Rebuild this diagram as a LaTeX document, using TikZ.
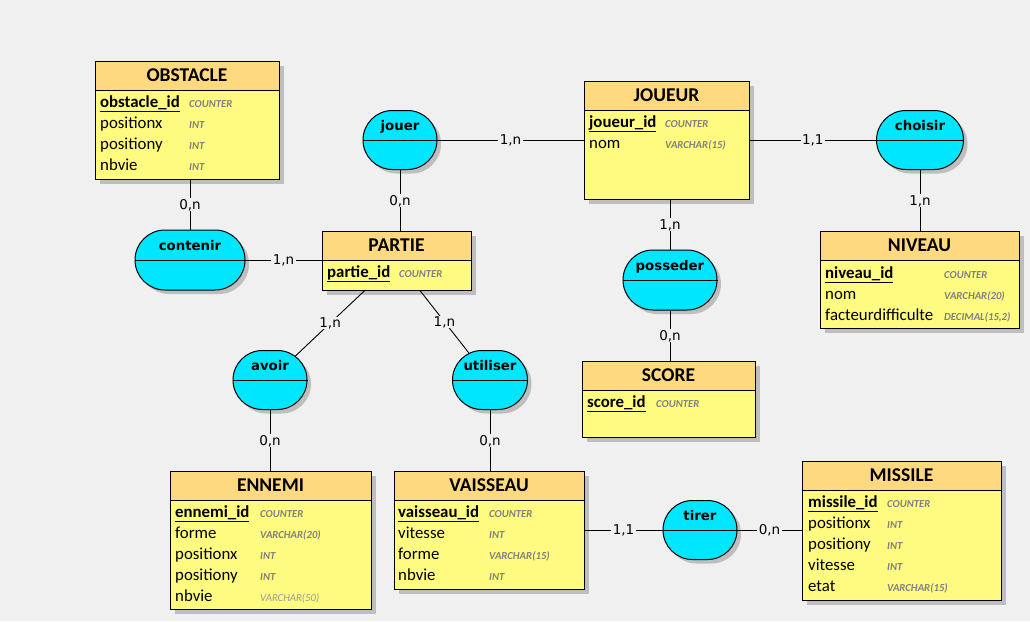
\documentclass[tikz,border=0pt]{standalone}
\usepackage{fontspec}
\setmainfont{Carlito}
\newfontfamily\relfont{DejaVu Sans}
\usetikzlibrary{shapes.misc,shadows}
\definecolor{bg}{RGB}{240,240,240}
\definecolor{hdr}{RGB}{255,217,128}
\definecolor{bodyc}{RGB}{255,250,128}
\definecolor{relc}{RGB}{0,230,255}
\definecolor{shad}{RGB}{190,190,190}
\definecolor{typec}{RGB}{128,128,128}
\begin{document}
\begin{tikzpicture}[x=1pt,y=-1pt,
  ent/.style={draw=black, line width=1pt, fill=bodyc, rectangle, inner sep=0pt,
    drop shadow={shadow xshift=5pt, shadow yshift=-5pt, fill=shad, opacity=1}},
  hdrbox/.style={draw=black, line width=1pt, fill=hdr, rectangle, inner sep=0pt, minimum height=29pt, anchor=north},
  title/.style={font=\fontsize{19.5}{19.5}\selectfont\bfseries, inner sep=0pt},
  attr/.style={font=\fontsize{16.8}{16.8}\selectfont, inner sep=0pt, anchor=base west},
  pk/.style={font=\fontsize{16.8}{16.8}\selectfont\bfseries, inner sep=0pt, anchor=base west},
  typ/.style={font=\fontsize{10.7}{10.7}\selectfont\bfseries\itshape, text=typec, inner sep=0pt, anchor=base west},
  rel/.style={rounded rectangle, draw=black, line width=1pt, fill=relc, inner sep=0pt,
    drop shadow={shadow xshift=4pt, shadow yshift=-4pt, fill=shad, opacity=1}},
  relname/.style={font=\relfont\fontsize{13.3}{13.3}\selectfont\bfseries, inner sep=0pt, anchor=base},
  card/.style={font=\relfont\fontsize{13.5}{13.5}\selectfont, fill=bg, inner sep=1.5pt, text height=9.5pt, text depth=0pt},
  conn/.style={draw=black, line width=0.9pt}
]
\useasboundingbox (0,0) rectangle (1030,621);
\fill[bg] (0,0) rectangle (1030,621);

% ---------------- entities ----------------
% OBSTACLE
\node[ent, minimum width=184pt, minimum height=118pt] (obstacle) at (187,120) {};
\node[hdrbox, minimum width=184pt] (obstacle-h) at (obstacle.north) {};
\node[title] (obstacle-t) at (obstacle-h.center) {OBSTACLE};
\node[pk] (obstacle-a1) at (100,107) {\underline{obstacle\_id}};
\node[typ] (obstacle-t1) at (189,107) {COUNTER};
\node[attr] (obstacle-a2) at (100,128) {positionx};
\node[typ] (obstacle-t2) at (189,128) {INT};
\node[attr] (obstacle-a3) at (100,149) {positiony};
\node[typ] (obstacle-t3) at (189,149) {INT};
\node[attr] (obstacle-a4) at (100,170) {nbvie};
\node[typ] (obstacle-t4) at (189,170) {INT};

% JOUEUR
\node[ent, minimum width=165pt, minimum height=118pt] (joueur) at (666.5,140) {};
\node[hdrbox, minimum width=165pt] (joueur-h) at (joueur.north) {};
\node[title] (joueur-t) at (joueur-h.center) {JOUEUR};
\node[pk] (joueur-a1) at (589,127) {\underline{joueur\_id}};
\node[typ] (joueur-t1) at (665,127) {COUNTER};
\node[attr] (joueur-a2) at (589,148) {nom};
\node[typ] (joueur-t2) at (665,148) {VARCHAR(15)};

% PARTIE
\node[ent, minimum width=149pt, minimum height=59pt] (partie) at (396.5,260.5) {};
\node[hdrbox, minimum width=149pt] (partie-h) at (partie.north) {};
\node[title] (partie-t) at (partie-h.center) {PARTIE};
\node[pk] (partie-a1) at (327,277) {\underline{partie\_id}};
\node[typ] (partie-t1) at (399,277) {COUNTER};

% NIVEAU
\node[ent, minimum width=199pt, minimum height=97pt] (niveau) at (919.5,279.5) {};
\node[hdrbox, minimum width=199pt] (niveau-h) at (niveau.north) {};
\node[title] (niveau-t) at (niveau-h.center) {NIVEAU};
\node[pk] (niveau-a1) at (825,278) {\underline{niveau\_id}};
\node[typ] (niveau-t1) at (944,278) {COUNTER};
\node[attr] (niveau-a2) at (825,299) {nom};
\node[typ] (niveau-t2) at (944,299) {VARCHAR(20)};
\node[attr] (niveau-a3) at (825,320) {facteurdifficulte};
\node[typ] (niveau-t3) at (944,320) {DECIMAL(15,2)};

% SCORE
\node[ent, minimum width=173pt, minimum height=76pt] (score) at (668.5,399) {};
\node[hdrbox, minimum width=173pt] (score-h) at (score.north) {};
\node[title] (score-t) at (score-h.center) {SCORE};
\node[pk] (score-a1) at (587,407) {\underline{score\_id}};
\node[typ] (score-t1) at (656,407) {COUNTER};

% ENNEMI
\node[ent, minimum width=201pt, minimum height=138pt] (ennemi) at (270.5,540) {};
\node[hdrbox, minimum width=201pt] (ennemi-h) at (ennemi.north) {};
\node[title] (ennemi-t) at (ennemi-h.center) {ENNEMI};
\node[pk] (ennemi-a1) at (175,517) {\underline{ennemi\_id}};
\node[typ] (ennemi-t1) at (260,517) {COUNTER};
\node[attr] (ennemi-a2) at (175,538) {forme};
\node[typ] (ennemi-t2) at (260,538) {VARCHAR(20)};
\node[attr] (ennemi-a3) at (175,559) {positionx};
\node[typ] (ennemi-t3) at (260,559) {INT};
\node[attr] (ennemi-a4) at (175,580) {positiony};
\node[typ] (ennemi-t4) at (260,580) {INT};
\node[attr] (ennemi-a5) at (175,601) {nbvie};
\node[typ, font=\fontsize{10.7}{10.7}\selectfont\itshape, text=typec!80] (ennemi-t5) at (260,601) {VARCHAR(50)};

% VAISSEAU
\node[ent, minimum width=190pt, minimum height=118pt] (vaisseau) at (489,530) {};
\node[hdrbox, minimum width=190pt] (vaisseau-h) at (vaisseau.north) {};
\node[title] (vaisseau-t) at (vaisseau-h.center) {VAISSEAU};
\node[pk] (vaisseau-a1) at (398,517) {\underline{vaisseau\_id}};
\node[typ] (vaisseau-t1) at (489,517) {COUNTER};
\node[attr] (vaisseau-a2) at (398,538) {vitesse};
\node[typ] (vaisseau-t2) at (489,538) {INT};
\node[attr] (vaisseau-a3) at (398,559) {forme};
\node[typ] (vaisseau-t3) at (489,559) {VARCHAR(15)};
\node[attr] (vaisseau-a4) at (398,580) {nbvie};
\node[typ] (vaisseau-t4) at (489,580) {INT};

% MISSILE
\node[ent, minimum width=199pt, minimum height=139pt] (missile) at (901.5,530.5) {};
\node[hdrbox, minimum width=199pt] (missile-h) at (missile.north) {};
\node[title] (missile-t) at (missile-h.center) {MISSILE};
\node[pk] (missile-a1) at (808,507) {\underline{missile\_id}};
\node[typ] (missile-t1) at (887,507) {COUNTER};
\node[attr] (missile-a2) at (808,528) {positionx};
\node[typ] (missile-t2) at (887,528) {INT};
\node[attr] (missile-a3) at (808,549) {positiony};
\node[typ] (missile-t3) at (887,549) {INT};
\node[attr] (missile-a4) at (808,570) {vitesse};
\node[typ] (missile-t4) at (887,570) {INT};
\node[attr] (missile-a5) at (808,591) {etat};
\node[typ] (missile-t5) at (887,591) {VARCHAR(15)};

% ---------------- relationships ----------------
\node[rel, minimum width=74pt, minimum height=59pt] (jouer) at (400,140) {};
\node[rel, minimum width=87pt, minimum height=59pt] (choisir) at (920,140) {};
\node[rel, minimum width=110pt, minimum height=60pt] (contenir) at (190,260) {};
\node[rel, minimum width=94pt, minimum height=60pt] (posseder) at (670,280) {};
\node[rel, minimum width=74pt, minimum height=59pt] (avoir) at (270,380) {};
\node[rel, minimum width=75pt, minimum height=59pt] (utiliser) at (490,380) {};
\node[rel, minimum width=74pt, minimum height=59pt] (tirer) at (700,530) {};

\foreach \r in {jouer,choisir,contenir,posseder,avoir,utiliser,tirer}
  \draw[line width=1pt] (\r.west) -- (\r.east);

\node[relname] (jouer-n) at ([yshift=10pt]jouer.center) {jouer};
\node[relname] (choisir-n) at ([yshift=10pt]choisir.center) {choisir};
\node[relname] (contenir-n) at ([yshift=10pt]contenir.center) {contenir};
\node[relname] (posseder-n) at ([yshift=10pt]posseder.center) {posseder};
\node[relname] (avoir-n) at ([yshift=10pt]avoir.center) {avoir};
\node[relname] (utiliser-n) at ([yshift=10pt]utiliser.center) {utiliser};
\node[relname] (tirer-n) at ([yshift=10pt]tirer.center) {tirer};

% ---------------- connectors ----------------
\draw[conn] (contenir.north |- obstacle.south) -- node[card] {0,n} (contenir.north);
\draw[conn] (contenir.east) -- node[card] {1,n} (contenir.east -| partie.west);
\draw[conn] (jouer.south) -- node[card] {0,n} (jouer.south |- partie.north);
\draw[conn] (jouer.east) -- node[card] {1,n} (jouer.east -| joueur.west);
\draw[conn] (choisir.west -| joueur.east) -- node[card] {1,1} (choisir.west);
\draw[conn] (choisir.south) -- node[card] {1,n} (choisir.south |- niveau.north);
\draw[conn] (posseder.north |- joueur.south) -- node[card] {1,n} (posseder.north);
\draw[conn] (posseder.south) -- node[card] {0,n} (posseder.south |- score.north);
\draw[conn] (partie) -- node[card] {1,n} (avoir);
\draw[conn] (partie) -- node[card] {1,n} (utiliser);
\draw[conn] (avoir.south) -- node[card] {0,n} (avoir.south |- ennemi.north);
\draw[conn] (utiliser.south) -- node[card] {0,n} (utiliser.south |- vaisseau.north);
\draw[conn] (tirer.west -| vaisseau.east) -- node[card] {1,1} (tirer.west);
\draw[conn] (tirer.east) -- node[card] {0,n} (tirer.east -| missile.west);
\end{tikzpicture}
\end{document}
